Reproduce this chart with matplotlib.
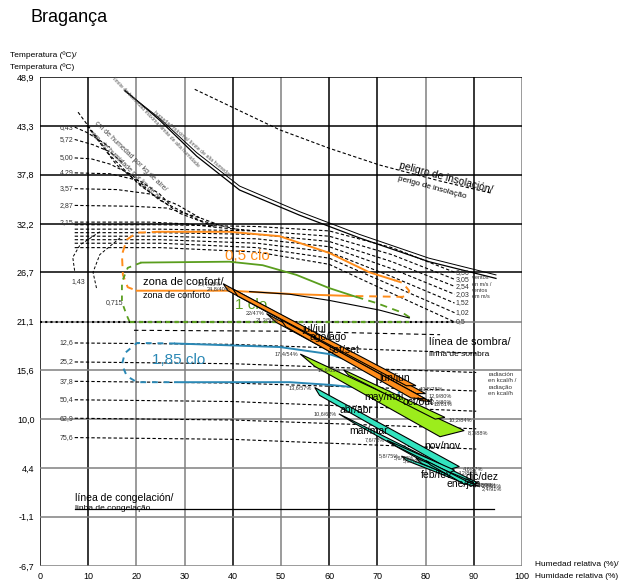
import matplotlib.pyplot as plt
from matplotlib.patches import Polygon

plt.rcParams['font.family'] = ['Liberation Sans', 'DejaVu Sans']

title = 'Bragança'

# axes and grid
x_ticks = [0, 10, 20, 30, 40, 50, 60, 70, 80, 90, 100]
y_ticks = [-6.7, -1.1, 4.4, 10.0, 15.6, 21.1, 26.7, 32.2, 37.8, 43.3, 48.9]
y_tick_labels = ['-6,7', '-1,1', '4,4', '10,0', '15,6', '21,1', '26,7', '32,2', '37,8', '43,3', '48,9']
x_dark = [0, 10, 40, 60, 70, 90]
y_dark = [26.7, 32.2, 37.8, 43.3, 48.9]

# monthly polygons (rh %, temp C): upper tip A, upper shoulder B, lower tip C, lower shoulder D
months = ['jul', 'ago', 'jun', 'set', 'may', 'oct', 'abr', 'mar', 'nov', 'feb', 'dic', 'ene']
group = ['orange', 'orange', 'orange', 'orange', 'lime', 'lime',
         'cyan', 'cyan', 'cyan', 'cyan', 'cyan', 'cyan']
rh_a = [38, 40, 47, 50, 54, 63, 57, 62, 72, 75, 78, 80]
t_a = [25.4, 24.8, 22.0, 21.3, 17.4, 15.6, 13.6, 10.6, 7.6, 5.8, 5.6, 5.3]
rh_b = [39, 41, 49, 51, 57, 64, 58, 65, 74, 76, 79, 81]
t_b = [24.6, 24.0, 21.0, 20.5, 16.0, 15.0, 12.7, 9.6, 6.9, 5.3, 5.0, 4.8]
rh_c = [80, 78, 81, 80, 88, 84, 87, 91, 86, 91, 90, 89]
t_c = [12.9, 13.8, 12.0, 12.3, 8.7, 10.2, 4.6, 2.7, 4.2, 2.4, 2.8, 2.8]
rh_d = [78, 76, 79, 77, 83, 82, 85, 88, 85, 89, 88, 88]
t_d = [12.9, 13.8, 12.1, 12.4, 8.0, 10.0, 4.3, 2.6, 3.9, 2.5, 2.9, 2.6]
group_colors = {'orange': '#ff8c1a', 'lime': '#9ced1c', 'cyan': '#33e3bf'}

month_names = ['jul/jul', 'ago/ago', 'jun/jun', 'set/set', 'may/mai', 'oct/out',
               'abr/abr', 'mar/mar', 'nov/nov', 'feb/fev', 'dic/dez', 'ene/jan']
name_x = [54.5, 55.9, 70.4, 60.0, 67.3, 75.2, 62.1, 64.2, 79.7, 79.1, 88.4, 84.3]
name_y = [20.2, 19.3, 14.7, 17.9, 12.5, 12.0, 11.0, 8.6, 7.0, 3.6, 3.4, 2.6]

# comfort zones
orange_top_x = [24.8, 39.3, 49.7, 60.0, 68.3, 73.5]
orange_top_y = [31.3, 31.3, 30.8, 28.9, 26.7, 25.8]
orange_dash_x = [73.5, 75.2, 76.6, 76.2, 75.2, 64.8]
orange_dash_y = [25.8, 25.5, 24.6, 24.1, 23.9, 24.0]
orange_bot_x = [20.1, 39.3, 53.2, 64.8]
orange_bot_y = [24.6, 24.6, 24.2, 24.0]
orange_left_x = [24.8, 20.1, 18.0, 17.0, 17.2, 18.2, 20.1]
orange_left_y = [31.3, 31.2, 30.4, 28.7, 26.4, 25.0, 24.6]

green_top_x = [21.0, 39.3, 46.2, 53.2, 60.0, 65.6]
green_top_y = [27.8, 27.9, 27.5, 26.4, 24.9, 23.9]
green_dash_x = [65.6, 69.8, 75.2, 76.6, 76.2]
green_dash_y = [23.9, 23.2, 22.1, 21.6, 21.1]
green_left_x = [21.0, 18.2, 17.0, 17.0, 18.0, 18.6]
green_left_y = [27.8, 27.2, 25.6, 23.3, 21.8, 21.05]
green_bot_x = [18.6, 76.6]
green_bot_y = [21.05, 21.05]

blue_top_x = [28.0, 49.7, 60.0, 66.0]
blue_top_y = [18.6, 18.2, 17.4, 16.3]
blue_top_dash_x = [66.0, 70.4, 76.6, 74.5, 67.7]
blue_top_dash_y = [16.3, 15.25, 14.1, 13.0, 13.5]
blue_bot_x = [28.0, 51.8, 60.0, 67.7]
blue_bot_y = [14.2, 14.2, 13.9, 13.5]
blue_left_x = [28.0, 20.1, 17.6, 17.0, 18.0, 20.1, 28.0]
blue_left_y = [18.6, 18.66, 17.5, 16.2, 14.9, 14.2, 14.2]

comfort_line_x = [43.5, 51.8, 60.0, 70.4, 76.6]
comfort_line_y = [24.5, 24.2, 23.5, 22.4, 21.5]

# wind lines (m/s)
wind_labels = ['3,56', '3,05', '2,54', '2,03', '1,52', '1,02', '0,5']
wind_x = [7.2, 25, 45, 60, 73, 86]
wind_y = [[32.1, 32.1, 31.9, 31.4, 29.5, 26.7],
          [31.6, 31.6, 31.4, 30.8, 28.7, 25.9],
          [31.2, 31.2, 31.0, 30.2, 27.9, 25.1],
          [30.8, 30.8, 30.5, 29.6, 27.1, 24.2],
          [30.4, 30.4, 30.0, 29.0, 26.2, 23.2],
          [30.0, 30.0, 29.5, 28.3, 25.2, 22.1],
          [29.5, 29.5, 29.0, 27.6, 24.3, 21.05]]

# humidity lines (g/kg)
hum_labels = ['6,43', '5,72', '5,00', '4,29', '3,57', '2,87', '2,15']
hum_x = [[7.2, 9.7, 12.4, 14.5],
         [7.2, 11.0, 14.5, 17.0],
         [7.2, 10.6, 14.5, 19.0, 22.0],
         [7.2, 14.5, 20.7, 24.8, 27.0],
         [7.2, 16.0, 22.8, 28.4, 33.1],
         [7.2, 19.3, 26.3, 33.1, 36.6],
         [7.2, 22.8, 30.4, 36.6, 45.0]]
hum_y = [[43.2, 42.6, 41.7, 40.9],
         [41.8, 41.2, 40.4, 39.2],
         [39.7, 39.6, 39.0, 37.8, 36.3],
         [38.0, 37.9, 37.1, 35.6, 34.4],
         [36.2, 36.1, 35.6, 34.4, 32.9],
         [34.3, 34.2, 34.0, 32.9, 32.2],
         [32.4, 32.4, 32.2, 31.8, 31.4]]
diag1_x = [7.9, 14.5, 20.7, 29.0, 36.2]
diag1_y = [44.9, 40.0, 36.6, 33.4, 31.9]
diag2_x = [9.7, 15.9, 24.8, 33.1, 41.4]
diag2_y = [43.4, 38.9, 34.9, 32.6, 31.5]
arc1_x = [12.4, 8.3, 6.8, 7.2]
arc1_y = [31.3, 29.8, 28.4, 26.8]
arc2_x = [16.6, 12.4, 11.0, 11.8]
arc2_y = [30.6, 28.7, 26.7, 24.7]

# upper limit lines
top1_x = [17.6, 24.8, 32.5, 41.4, 53.8, 66.3, 80.7, 94.6]
top1_y = [47.4, 44.0, 39.9, 36.05, 33.2, 30.6, 27.9, 26.0]
top2_y = [47.3, 44.2, 40.3, 36.5, 33.6, 31.0, 28.3, 26.4]
sun_x = [32.1, 49.7, 60.0, 70.4, 82.8, 93.6]
sun_y = [47.5, 42.9, 40.8, 38.9, 37.1, 35.7]

# radiation lines (kcal/h)
rad_labels = ['12,6', '25,2', '37,8', '50,4', '62,9', '75,6']
rad_x = [7.2, 40, 90.5]
rad_left = [18.66, 16.5, 14.3, 12.2, 10.1, 7.9]
rad_mid = [18.5, 16.3, 14.1, 12.0, 9.9, 7.7]
rad_right = [17.5, 15.3, 13.2, 10.9, 8.9, 6.6]
shadow_dash_x = [19.5, 50, 83]
shadow_dash_y = [20.1, 20.0, 19.6]

fig = plt.figure(figsize=(6.21, 5.82), dpi=100)
ax = fig.add_axes([40 / 621, 16 / 582, 482 / 621, 489 / 582])
ax.set_xlim(0, 100)
ax.set_ylim(-6.7, 48.9)
for s in ax.spines.values():
    s.set_visible(False)
ax.set_xticks(x_ticks)
ax.set_yticks(y_ticks)
ax.set_yticklabels(y_tick_labels)
ax.tick_params(length=0, labelsize=6.5, pad=4)

for xv in x_ticks:
    ax.axvline(xv, color='black' if xv in x_dark else '#808080', lw=1.1, zorder=1)
for yv in y_ticks:
    ax.axhline(yv, color='black' if yv in y_dark else '#808080', lw=1.1, zorder=1)

dash = (0, (3, 2))
# humidity
for lab, hx, hy in zip(hum_labels, hum_x, hum_y):
    ax.plot(hx, hy, color='black', lw=0.8, ls=dash, zorder=2)
    ax.text(7.0, hy[0], lab, fontsize=5, ha='right', va='center', color='#333333')
ax.plot(diag1_x, diag1_y, color='black', lw=0.8, ls=dash, zorder=2)
ax.plot(diag2_x, diag2_y, color='black', lw=0.8, ls=dash, zorder=2)
ax.plot(arc1_x, arc1_y, color='black', lw=0.7, ls=dash, zorder=2)
ax.plot(arc2_x, arc2_y, color='black', lw=0.7, ls=dash, zorder=2)
ax.text(7.9, 25.6, '1,43', fontsize=5, ha='center', va='center', color='#333333')
ax.text(15.4, 23.3, '0,715', fontsize=5, ha='center', va='center', color='#333333')

ax.plot(top1_x, top1_y, color='black', lw=0.9, zorder=3)
ax.plot(top1_x, top2_y, color='black', lw=0.7, zorder=3)
ax.plot(sun_x, sun_y, color='black', lw=0.8, ls=dash, zorder=2)

# wind
for lab, wy in zip(wind_labels, wind_y):
    ax.plot(wind_x, wy, color='black', lw=0.8, ls=dash, zorder=2)
    ax.text(86.3, wy[-1], lab, fontsize=5, ha='left', va='center', color='#333333')
ax.text(89.6, 25.0, 'vientos\nen m/s /\nventos\nem m/s', fontsize=4, ha='left', va='center',
        color='#333333', linespacing=1.3)

# radiation
for lab, a, b, c in zip(rad_labels, rad_left, rad_mid, rad_right):
    ax.plot(rad_x, [a, b, c], color='black', lw=0.8, ls=dash, zorder=2)
    ax.text(6.9, a, lab, fontsize=5, ha='right', va='center', color='#333333')
ax.plot(shadow_dash_x, shadow_dash_y, color='black', lw=0.8, ls=(0, (4, 3)), zorder=2)
ax.text(93.0, 14.0, 'radiación\nen kcal/h /\nradiação\nen kcal/h', fontsize=4.5, ha='left',
        va='center', color='#333333', linespacing=1.4)

# shadow line
ax.plot([0, 86], [21.0, 21.0], color='black', lw=1.5, ls=(0, (1, 1.5)), zorder=3)
ax.text(80.7, 18.8, 'línea de sombra/', fontsize=7.8, va='center')
ax.text(80.7, 17.3, 'linha de sombra', fontsize=6, va='center')

# comfort zones
orange = '#ff8c1a'
green = '#5a9e1e'
blue = '#2a88b5'
ax.plot(orange_top_x, orange_top_y, color=orange, lw=1.4, zorder=4)
ax.plot(orange_dash_x, orange_dash_y, color=orange, lw=1.4, ls=(0, (4, 3)), zorder=4)
ax.plot(orange_bot_x, orange_bot_y, color=orange, lw=1.4, zorder=4)
ax.plot(orange_left_x, orange_left_y, color=orange, lw=1.4, ls=(0, (4, 3)), zorder=4)
ax.plot(green_top_x, green_top_y, color=green, lw=1.3, zorder=4)
ax.plot(green_dash_x, green_dash_y, color=green, lw=1.3, ls=(0, (4, 3)), zorder=4)
ax.plot(green_left_x, green_left_y, color=green, lw=1.3, ls=(0, (3, 3)), zorder=4)
ax.plot(green_bot_x, green_bot_y, color=green, lw=1.6, ls=(0, (2, 2)), zorder=4)
ax.plot(blue_top_x, blue_top_y, color=blue, lw=1.4, zorder=4)
ax.plot(blue_top_dash_x, blue_top_dash_y, color=blue, lw=1.4, ls=(0, (4, 4)), zorder=4)
ax.plot(blue_bot_x, blue_bot_y, color=blue, lw=1.4, zorder=4)
ax.plot(blue_left_x, blue_left_y, color=blue, lw=1.4, ls=(0, (3, 3)), zorder=4)
ax.plot(comfort_line_x, comfort_line_y, color='black', lw=0.8, zorder=4)

ax.text(38.3, 28.6, '0,5 clo', fontsize=11, color=orange, va='center')
ax.text(40.4, 23.0, '1 clo', fontsize=11, color=green, va='center')
ax.text(23.2, 16.7, '1,85 clo', fontsize=11, color=blue, va='center')
ax.text(21.3, 25.6, 'zona de confort/', fontsize=8, va='center', zorder=6)
ax.text(21.3, 24.1, 'zona de conforto', fontsize=6.5, va='center', zorder=6)

# months
order = [i for g in ['cyan', 'lime', 'orange'] for i in range(len(months)) if group[i] == g]
for i in order:
    pts = [(rh_a[i], t_a[i]), (rh_c[i], t_c[i]), (rh_d[i], t_d[i]), (rh_b[i], t_b[i])]
    ax.add_patch(Polygon(pts, closed=True, facecolor=group_colors[group[i]],
                         edgecolor='black', lw=0.8, zorder=5))
for i in range(len(months)):
    top_lab = f'{t_a[i]:g}'.replace('.', ',') + f'/{rh_a[i]}%'
    bot_lab = f'{t_c[i]:g}'.replace('.', ',') + f'/{rh_c[i]}%'
    ax.text(rh_a[i] - 0.5, t_a[i], top_lab, fontsize=4, ha='right', va='center',
            color='#333333', zorder=7)
    ax.text(rh_c[i] + 0.7, t_c[i] - 0.3, bot_lab, fontsize=4, ha='left', va='center',
            color='#333333', zorder=7)
for nm, nx, ny in zip(month_names, name_x, name_y):
    ax.text(nx, ny, nm, fontsize=7.5, va='center', zorder=8)

# freezing line
ax.plot([7.2, 94.2], [-0.2, -0.2], color='black', lw=0.9, zorder=3)
ax.text(7.2, 1.0, 'línea de congelación/', fontsize=7.5, va='center')
ax.text(7.2, -0.2, 'linha de congelação', fontsize=6, va='center')

# rotated notes
ax.text(84.3, 37.4, 'peligro de insolación/', fontsize=7.4, rotation=-15,
        ha='center', va='center', rotation_mode='anchor')
ax.text(81.4, 36.3, 'perigo de insolação', fontsize=5.9, rotation=-15,
        ha='center', va='center', rotation_mode='anchor')
ax.text(18.8, 39.9, 'cm de humedad por kg de aire/', fontsize=5, rotation=-44,
        ha='center', va='center', rotation_mode='anchor', color='#444444')
ax.text(17.6, 38.8, 'cm. de humidade por kg de ar', fontsize=5, rotation=-44,
        ha='center', va='center', rotation_mode='anchor', color='#444444')
ax.text(24.0, 43.8, 'límite de humedad máxima/ limite de alta humidade', fontsize=3.8,
        rotation=-46, ha='center', va='center', rotation_mode='anchor', color='#555555')
ax.text(31.5, 41.3, 'humedad máxima/ límite de alta humedad', fontsize=3.8,
        rotation=-40, ha='center', va='center', rotation_mode='anchor', color='#555555')

fig.text(30 / 621, 1 - 18 / 582, title, fontsize=13, va='center')
fig.text(10 / 621, 1 - 55 / 582, 'Temperatura (ºC)/', fontsize=6, va='center')
fig.text(10 / 621, 1 - 67 / 582, 'Temperatura (ºC)', fontsize=6, va='center')
fig.text(535 / 621, 1 - 565 / 582, 'Humedad relativa (%)/', fontsize=6, va='center')
fig.text(535 / 621, 1 - 577 / 582, 'Humidade relativa (%)', fontsize=6, va='center')

fig.savefig('out.png', dpi=100)
